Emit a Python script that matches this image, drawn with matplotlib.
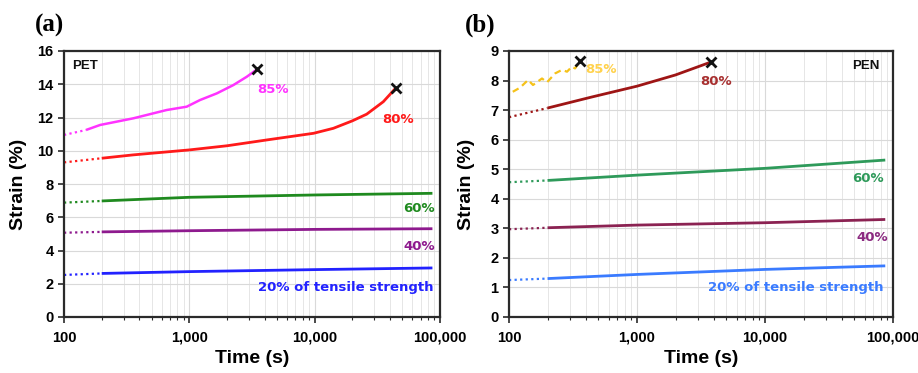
import matplotlib
matplotlib.use("Agg")
import matplotlib.pyplot as plt
from matplotlib.ticker import FuncFormatter, FixedLocator, LogLocator, NullFormatter

# ---------------- data ----------------
# Panel (a) PET
pet85_t = [100, 150, 194, 357, 659, 953, 1216, 1656, 2244, 2871, 3470]
pet85_s = [10.95, 11.25, 11.55, 11.95, 12.45, 12.65, 13.05, 13.45, 13.95, 14.45, 14.9]
pet80_t = [100, 200, 355, 1000, 2000, 4150, 9800, 14100, 20000, 26000, 35300, 44700]
pet80_s = [9.3, 9.55, 9.75, 10.05, 10.3, 10.65, 11.05, 11.35, 11.8, 12.2, 12.95, 13.8]
pet_low_t = [100, 200, 1000, 10000, 87000]
pet60_s = [6.88, 6.98, 7.2, 7.34, 7.44]
pet40_s = [5.07, 5.12, 5.19, 5.27, 5.31]
pet20_s = [2.53, 2.62, 2.73, 2.85, 2.95]
pet_fail_t = [3470, 44700]
pet_fail_s = [14.9, 13.8]

# Panel (b) PEN
pen85_t = [107, 122, 141, 154, 181, 198, 229, 259, 284, 310, 328, 359]
pen85_s = [7.62, 7.76, 8.02, 7.85, 8.07, 7.94, 8.24, 8.36, 8.30, 8.47, 8.41, 8.66]
pen80_t = [100, 200, 440, 1000, 2000, 3800]
pen80_s = [6.76, 7.07, 7.44, 7.81, 8.19, 8.63]
pen_low_t = [100, 200, 1000, 10000, 87000]
pen60_s = [4.56, 4.62, 4.80, 5.03, 5.31]
pen40_s = [2.97, 3.02, 3.11, 3.19, 3.30]
pen20_s = [1.25, 1.30, 1.44, 1.61, 1.73]
pen_fail_t = [359, 3800]
pen_fail_s = [8.66, 8.63]

xticks = [100, 1000, 10000, 100000]
pet_yticks = [0, 2, 4, 6, 8, 10, 12, 14, 16]
pen_yticks = [0, 1, 2, 3, 4, 5, 6, 7, 8, 9]

# ---------------- style ----------------
LAB = ['Liberation Sans', 'DejaVu Sans']
ANN = ['DejaVu Sans']

fig = plt.figure(figsize=(9.18, 3.73), dpi=100)
axA = fig.add_axes([64/918, 56/373, 376/918, 266/373])
axB = fig.add_axes([509/918, 56/373, 384/918, 266/373])


def series(ax, t, s, color, lw=2.0):
    ax.plot(t[:2], s[:2], color=color, lw=1.6, ls=(0, (1, 1.5)))
    ax.plot(t[1:], s[1:], color=color, lw=lw, solid_capstyle='butt')


def style(ax, yticks, ymax):
    ax.set_xscale('log')
    ax.set_xlim(100, 100000)
    ax.set_ylim(0, ymax)
    ax.xaxis.set_major_locator(FixedLocator(xticks))
    ax.xaxis.set_minor_locator(LogLocator(base=10, subs=range(2, 10)))
    ax.xaxis.set_minor_formatter(NullFormatter())
    ax.xaxis.set_major_formatter(FuncFormatter(lambda v, p: f"{v:,.0f}"))
    ax.set_yticks(yticks)
    ax.grid(True, which='major', color='#d9d9d9', lw=0.8)
    ax.grid(True, which='minor', axis='x', color='#e6e6e6', lw=0.7)
    ax.set_axisbelow(True)
    for sp in ax.spines.values():
        sp.set_color('#2a2a2a')
        sp.set_linewidth(1.6)
    ax.tick_params(axis='both', which='major', direction='out', length=4,
                   width=1.2, color='#2a2a2a', labelsize=10.5)
    ax.tick_params(axis='x', which='minor', direction='out', length=2.5,
                   width=0.8, color='#2a2a2a')
    ax.tick_params(axis='x', pad=6)
    for lab in ax.get_xticklabels() + ax.get_yticklabels():
        lab.set_fontweight('bold')
        lab.set_family(LAB)
    ax.set_xlabel('Time (s)', fontsize=14, fontweight='bold', family=LAB)
    ax.set_ylabel('Strain (%)', fontsize=14, fontweight='bold', family=LAB)
    ax.xaxis.set_label_coords(0.5, -0.124)


# ---------- panel (a) ----------
series(axA, pet_low_t, pet20_s, '#2222ff')
series(axA, pet_low_t, pet40_s, '#8e1a8e')
series(axA, pet_low_t, pet60_s, '#1f8a1f')
series(axA, pet80_t, pet80_s, '#ff1a1a')
series(axA, pet85_t, pet85_s, '#ff33ff', lw=1.8)
axA.plot(pet_fail_t, pet_fail_s, ls='none', marker='x', color='#111111',
         ms=7, mew=2)
style(axA, pet_yticks, 16)
axA.yaxis.set_label_coords(-0.098, 0.5)

axA.text(116, 15.1, 'PET', fontsize=9.5, fontweight='bold', family=LAB,
         ha='left', va='center', color='#111111')
axA.text(3500, 13.7, '85%', fontsize=9.5, fontweight='bold', family=ANN,
         ha='left', va='center', color='#ff33ff')
axA.text(46000, 11.9, '80%', fontsize=9.5, fontweight='bold', family=ANN,
         ha='center', va='center', color='#ff1a1a')
axA.text(91000, 6.5, '60%', fontsize=9.5, fontweight='bold', family=ANN,
         ha='right', va='center', color='#1f8a1f')
axA.text(91000, 4.27, '40%', fontsize=9.5, fontweight='bold', family=ANN,
         ha='right', va='center', color='#8e1a8e')
axA.text(89000, 1.8, '20% of tensile strength', fontsize=9.5, fontweight='bold',
         family=ANN, ha='right', va='center', color='#2222ff')

# ---------- panel (b) ----------
series(axB, pen_low_t, pen20_s, '#3a7bff')
series(axB, pen_low_t, pen40_s, '#8b2252')
series(axB, pen_low_t, pen60_s, '#2e9a5a')
series(axB, pen80_t, pen80_s, '#9e1515')
axB.plot(pen85_t, pen85_s, color='#f5c21a', lw=1.6, ls=(0, (3, 2)))
axB.plot(pen_fail_t, pen_fail_s, ls='none', marker='x', color='#111111',
         ms=7, mew=2)
style(axB, pen_yticks, 9)
axB.yaxis.set_label_coords(-0.089, 0.5)

axB.text(78000, 8.49, 'PEN', fontsize=9.5, fontweight='bold', family=LAB,
         ha='right', va='center', color='#111111')
axB.text(393, 8.36, '85%', fontsize=9.5, fontweight='bold', family=ANN,
         ha='left', va='center', color='#ffd24d')
axB.text(4140, 7.98, '80%', fontsize=9.5, fontweight='bold', family=ANN,
         ha='center', va='center', color='#a83030')
axB.text(85000, 4.70, '60%', fontsize=9.5, fontweight='bold', family=ANN,
         ha='right', va='center', color='#2e9a5a')
axB.text(91000, 2.70, '40%', fontsize=9.5, fontweight='bold', family=ANN,
         ha='right', va='center', color='#8b2a80')
axB.text(85000, 1.01, '20% of tensile strength', fontsize=9.5, fontweight='bold',
         family=ANN, ha='right', va='center', color='#3a7bff')

# panel letters
fig.text(35/918, 1 - 25/373, '(a)', fontsize=18, fontweight='bold',
         family=['Liberation Serif', 'DejaVu Serif'], ha='left', va='center')
fig.text(465/918, 1 - 25/373, '(b)', fontsize=18, fontweight='bold',
         family=['Liberation Serif', 'DejaVu Serif'], ha='left', va='center')

fig.savefig('out.png', dpi=100)
